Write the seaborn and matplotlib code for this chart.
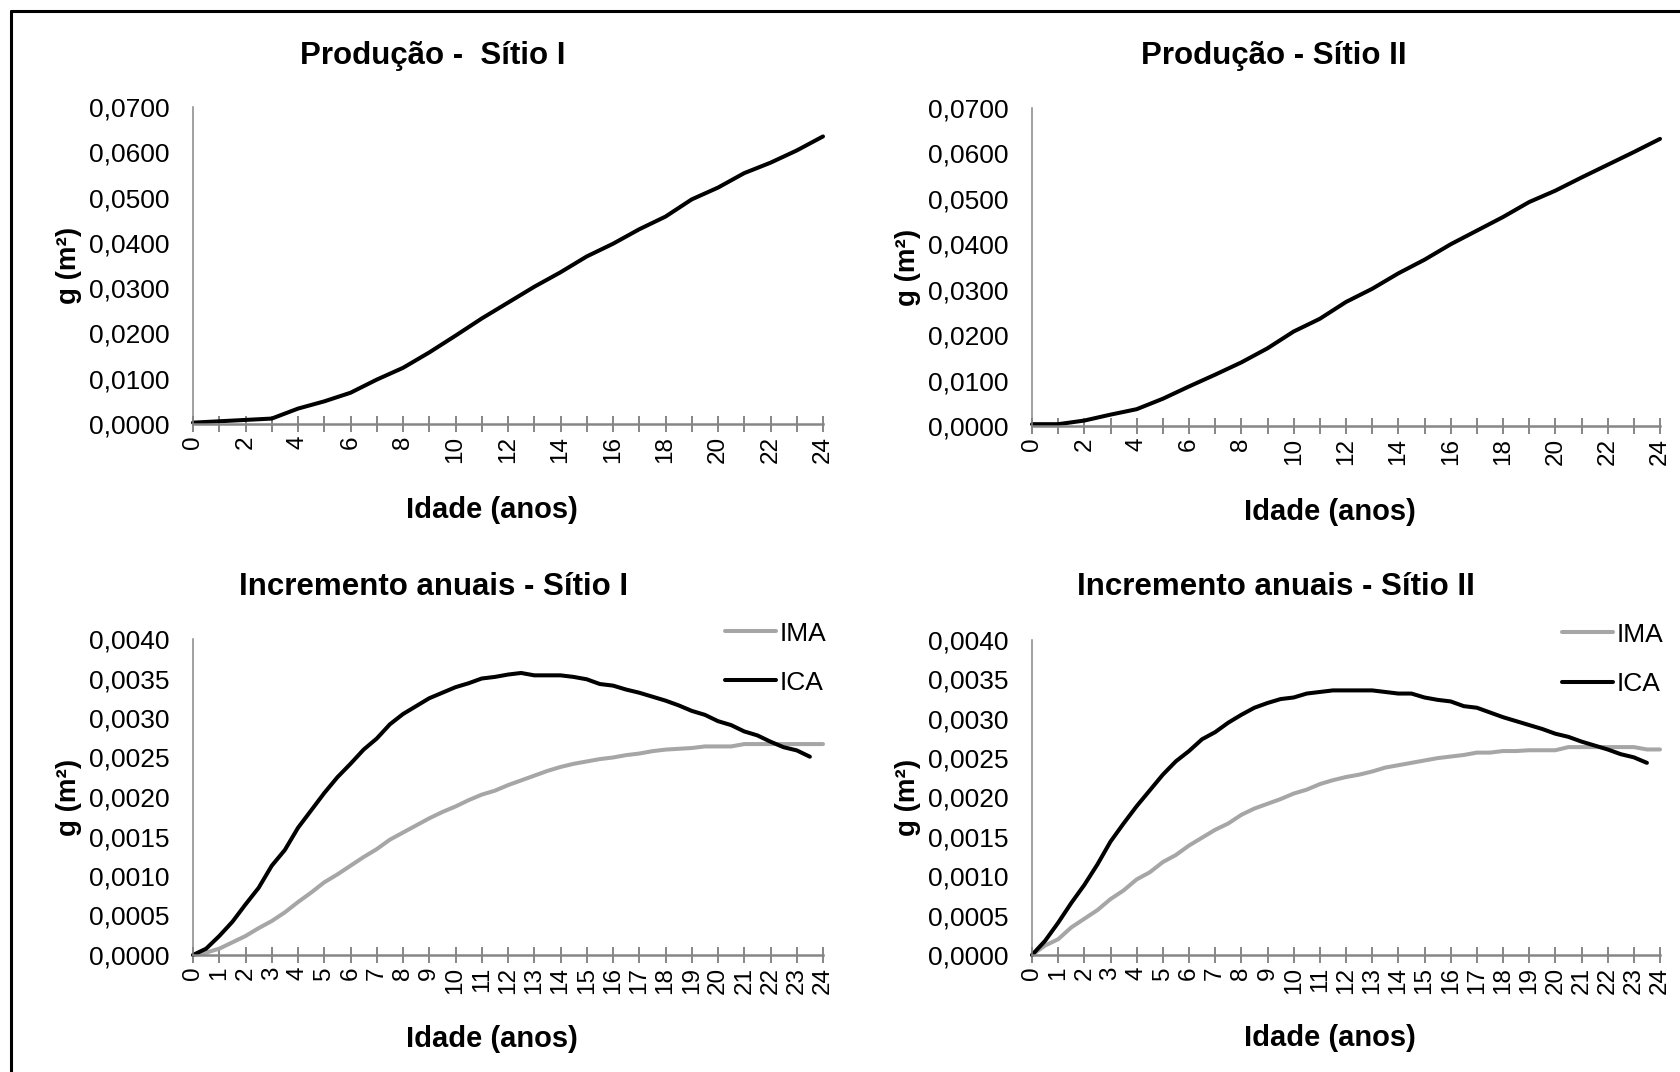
import numpy as np
import pandas as pd
import matplotlib
matplotlib.use("Agg")
import matplotlib.pyplot as plt
import seaborn as sns
from matplotlib import font_manager
from matplotlib.ticker import FuncFormatter, MultipleLocator
from matplotlib.lines import Line2D

# ---------------- data ----------------
ages_prod = [0, 1, 2, 3, 4, 5, 6, 7, 8, 9, 10, 11, 12, 13, 14, 15, 16, 17, 18, 19, 20, 21, 22, 23, 24]
prod_sitio1 = [0.0003, 0.0006, 0.0009, 0.0012, 0.0034, 0.0050, 0.0069, 0.0098, 0.0124, 0.0158,
               0.0195, 0.0233, 0.0268, 0.0303, 0.0335, 0.0370, 0.0398, 0.0430, 0.0458, 0.0496,
               0.0522, 0.0554, 0.0577, 0.0604, 0.0635]
prod_sitio2 = [0.0004, 0.0004, 0.0012, 0.0025, 0.0037, 0.0060, 0.0087, 0.0113, 0.0140, 0.0171,
               0.0208, 0.0236, 0.0273, 0.0302, 0.0336, 0.0366, 0.0400, 0.0430, 0.0460, 0.0493,
               0.0518, 0.0547, 0.0575, 0.0603, 0.0632]

ages_ima = [0, 0.5, 1, 1.5, 2, 2.5, 3, 3.5, 4, 4.5, 5, 5.5, 6, 6.5, 7, 7.5, 8, 8.5, 9, 9.5,
            10, 10.5, 11, 11.5, 12, 12.5, 13, 13.5, 14, 14.5, 15, 15.5, 16, 16.5, 17, 17.5,
            18, 18.5, 19, 19.5, 20, 20.5, 21, 21.5, 22, 22.5, 23, 23.5, 24]
ages_ica = ages_ima[:-1]

ica_sitio1 = [0, 8, 24, 42, 64, 85, 113, 133, 161, 183, 205, 225, 242, 260, 274, 292, 305, 315,
              325, 332, 339, 344, 350, 352, 355, 357, 354, 354, 354, 352, 349, 343, 341, 336,
              332, 327, 322, 316, 309, 304, 296, 291, 283, 278, 270, 263, 259, 251]
ima_sitio1 = [0, 3, 8, 16, 24, 34, 43, 54, 67, 79, 92, 102, 113, 124, 134, 146, 155, 164, 173,
              181, 188, 196, 203, 208, 215, 221, 227, 233, 238, 242, 245, 248, 250, 253, 255,
              258, 260, 261, 262, 264, 264, 264, 267, 267, 267, 267, 267, 267, 267]
ica_sitio2 = [0, 18, 41, 66, 89, 115, 144, 167, 189, 209, 229, 246, 259, 274, 283, 295, 305, 314,
              320, 325, 327, 332, 334, 336, 336, 336, 336, 334, 332, 332, 327, 324, 322, 316,
              314, 308, 302, 297, 292, 287, 281, 277, 271, 266, 261, 255, 251, 244]
ima_sitio2 = [0, 12, 20, 35, 46, 57, 71, 82, 96, 105, 118, 127, 139, 149, 159, 167, 178, 186, 192,
              198, 205, 210, 217, 222, 226, 229, 233, 238, 241, 244, 247, 250, 252, 254, 257,
              257, 259, 259, 260, 260, 260, 264, 264, 264, 264, 264, 264, 261, 261]
ica_sitio1 = [v * 1e-5 for v in ica_sitio1]
ima_sitio1 = [v * 1e-5 for v in ima_sitio1]
ica_sitio2 = [v * 1e-5 for v in ica_sitio2]
ima_sitio2 = [v * 1e-5 for v in ima_sitio2]

titles = ["Produção -  Sítio I", "Produção - Sítio II",
          "Incremento anuais - Sítio I", "Incremento anuais - Sítio II"]
xlabel = "Idade (anos)"
ylabel = "g (m²)"

# ---------------- style ----------------
sns.set_style("white")
names = {f.name for f in font_manager.fontManager.ttflist}
NARROW = "Liberation Sans Narrow" if "Liberation Sans Narrow" in names else "Liberation Sans"
REG = "Liberation Sans"
plt.rcParams["font.family"] = [NARROW, "DejaVu Sans"]
plt.rcParams["text.color"] = "black"
plt.rcParams["axes.labelcolor"] = "black"
plt.rcParams["xtick.color"] = "black"
plt.rcParams["ytick.color"] = "black"

AXIS_GRAY = "#868686"
IMA_GRAY = "#A6A6A6"

fig = plt.figure(figsize=(16.8, 10.72), dpi=100)
W, H = 1680, 1072

def add_axes(x0, x1, ytop, ybot):
    return fig.add_axes([x0 / W, 1 - ybot / H, (x1 - x0) / W, (ybot - ytop) / H])

ax_tl = add_axes(193, 823, 107, 424)
ax_tr = add_axes(1032, 1660, 108, 426)
ax_bl = add_axes(193, 823, 639, 955)
ax_br = add_axes(1032, 1660, 640, 955)

fmt = FuncFormatter(lambda v, p: f"{v:.4f}".replace(".", ","))

def style_axes(ax, ymax, ystep, every_label):
    for s in ["top", "right"]:
        ax.spines[s].set_visible(False)
    ax.spines["left"].set_color(AXIS_GRAY)
    ax.spines["left"].set_linewidth(1.1)
    ax.spines["bottom"].set_color(AXIS_GRAY)
    ax.spines["bottom"].set_linewidth(1.8)
    ax.set_xlim(0, 24)
    ax.set_ylim(0, ymax)
    ax.yaxis.set_major_locator(MultipleLocator(ystep))
    ax.yaxis.set_major_formatter(fmt)
    ax.set_xticks(list(range(0, 25)))
    labels = [str(i) if (i % every_label == 0) else "" for i in range(0, 25)]
    ax.set_xticklabels(labels, rotation=90, fontfamily=REG, fontsize=17.5)
    ax.tick_params(axis="x", direction="inout", length=11, width=1.4, color=AXIS_GRAY,
                   labelcolor="black", pad=3, bottom=True)
    ax.tick_params(axis="y", length=0, pad=17, labelsize=19, labelcolor="black")
    for t in ax.get_yticklabels():
        t.set_fontfamily(NARROW)
    ax.set_xlabel(xlabel, fontsize=21, fontweight="bold", fontfamily=NARROW, color="black")
    ax.xaxis.label.set_va("center")
    ax.set_ylabel(ylabel, fontsize=20, fontweight="bold", fontfamily=REG, color="black")
    ax.yaxis.label.set_va("center")
    ax.yaxis.set_label_coords(-0.197, 0.5)

LW = 2.9

# top panels
for ax, vals in [(ax_tl, prod_sitio1), (ax_tr, prod_sitio2)]:
    sns.lineplot(x=ages_prod, y=vals, ax=ax, color="black", linewidth=LW)
    for l in ax.lines:
        l.set_clip_on(False)
    style_axes(ax, 0.07, 0.01, 2)
    ax.xaxis.set_label_coords(0.475, -0.271)

# bottom panels
for ax, ima, ica in [(ax_bl, ima_sitio1, ica_sitio1), (ax_br, ima_sitio2, ica_sitio2)]:
    sns.lineplot(x=ages_ima, y=ima, ax=ax, color=IMA_GRAY, linewidth=LW, label="IMA")
    sns.lineplot(x=ages_ica, y=ica, ax=ax, color="black", linewidth=LW, label="ICA")
    for l in ax.lines:
        l.set_clip_on(False)
    style_axes(ax, 0.004, 0.0005, 1)
    ax.xaxis.set_label_coords(0.475, -0.265)
    leg = ax.legend(loc="upper right", bbox_to_anchor=(1.005, 1.055), frameon=False,
                    handlelength=1.95, handletextpad=0.12, labelspacing=0.95,
                    borderaxespad=0, borderpad=0, prop={"family": NARROW, "size": 19})
    for t in leg.get_texts():
        t.set_color("black")

# titles
for xc, yc, t in [(433, 56, titles[0]), (1274, 56, titles[1]),
                  (434, 587, titles[2]), (1276, 587, titles[3])]:
    fig.text(xc / W, 1 - yc / H, t, ha="center", va="center", fontsize=22.5,
             fontweight="bold", fontfamily=NARROW, color="black")

# outer frame (top and left edges visible)
fig.add_artist(Line2D([11 / W, 1], [1 - 11 / H, 1 - 11 / H], color="black", linewidth=2.2,
                      transform=fig.transFigure))
fig.add_artist(Line2D([11 / W, 11 / W], [0, 1 - 11 / H], color="black", linewidth=2.2,
                      transform=fig.transFigure))

fig.savefig("out.png", dpi=100, facecolor="white")
